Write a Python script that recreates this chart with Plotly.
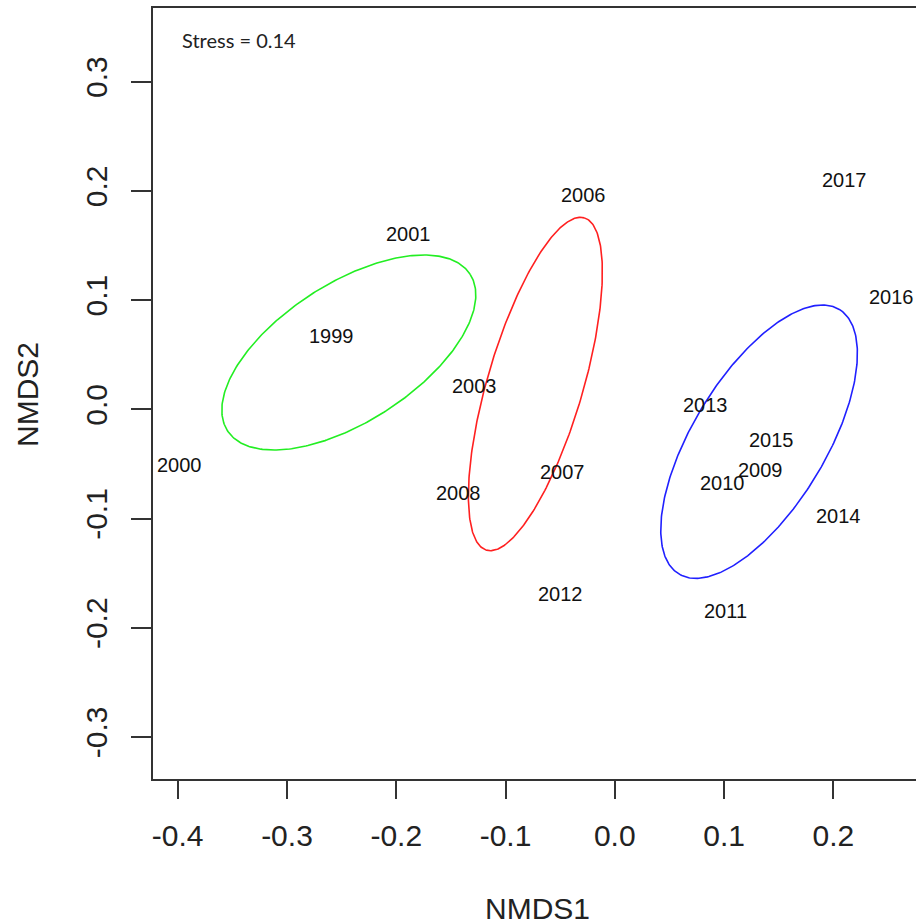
import numpy as np
import plotly.graph_objects as go

# ---- data ----
years = ["1999", "2000", "2001", "2003", "2006", "2007", "2008", "2009", "2010",
         "2011", "2012", "2013", "2014", "2015", "2016", "2017"]
nmds1 = [-0.2596, -0.3988, -0.189, -0.1288, -0.029, -0.0482, -0.1428, 0.1336, 0.0982,
         0.1010, -0.050, 0.0829, 0.2044, 0.1435, 0.2537, 0.2098]
nmds2 = [0.0671, -0.051, 0.1605, 0.0213, 0.196, -0.0574, -0.0765, -0.0556, -0.0678,
         -0.1847, -0.1691, 0.0039, -0.0977, -0.0281, 0.1028, 0.210]

# ellipses: centre, semi-axes, rotation (deg)
ell_names = ["group1", "group2", "group3"]
ell_cx = [-0.2434, -0.07266, 0.13206]
ell_cy = [0.0520, 0.02317, -0.02967]
ell_a = [0.13215, 0.15859, 0.14164]
ell_b = [0.0634, 0.04373, 0.06083]
ell_angle = [32.84, 73.62, 58.77]
ell_colors = ["#22ee22", "#ff2020", "#2020ff"]

x_ticks = [-0.4, -0.3, -0.2, -0.1, 0.0, 0.1, 0.2]
x_ticklabels = ["-0.4", "-0.3", "-0.2", "-0.1", "0.0", "0.1", "0.2"]
y_ticks = [-0.3, -0.2, -0.1, 0.0, 0.1, 0.2, 0.3]
y_ticklabels = ["-0.3", "-0.2", "-0.1", "0.0", "0.1", "0.2", "0.3"]

stress_text = "Stress = 0.14"

W, H = 916, 924
ML, MR, MT, MB = 153, 0, 8, 145

fig = go.Figure()

t = np.linspace(0, 2 * np.pi, 361)
for name, cx, cy, a, b, ang, col in zip(ell_names, ell_cx, ell_cy, ell_a, ell_b, ell_angle, ell_colors):
    th = np.deg2rad(ang)
    ex = cx + a * np.cos(th) * np.cos(t) - b * np.sin(th) * np.sin(t)
    ey = cy + a * np.sin(th) * np.cos(t) + b * np.cos(th) * np.sin(t)
    fig.add_trace(go.Scatter(x=ex, y=ey, mode="lines", name=name,
                             line=dict(color=col, width=1.6), hoverinfo="skip"))

label_font = dict(family="Liberation Sans, Arial", size=20, color="#111111")
year_annotations = [
    dict(x=xv, y=yv, xref="x", yref="y", text=lab, showarrow=False,
         xanchor="center", yanchor="middle", font=label_font)
    for xv, yv, lab in zip(nmds1, nmds2, years)
]

font_axis = dict(family="Liberation Sans, Arial", size=30, color="#222222")

fig.update_layout(
    width=W, height=H,
    margin=dict(l=ML, r=MR, t=MT, b=MB, pad=0),
    paper_bgcolor="white", plot_bgcolor="white",
    showlegend=False,
    xaxis=dict(range=[-0.4226, 0.27567], tickvals=x_ticks, ticktext=x_ticklabels,
               showgrid=False, zeroline=False, showline=True, mirror=True,
               linecolor="#333333", linewidth=2, ticks="outside", ticklen=18,
               tickwidth=2, tickcolor="#333333", tickfont=font_axis,
               ticklabelstandoff=11),
    yaxis=dict(range=[-0.33855, 0.36749], tickvals=y_ticks, ticktext=y_ticklabels,
               showgrid=False, zeroline=False, showline=True, mirror=False,
               linecolor="#333333", linewidth=2, ticks="outside", ticklen=20,
               tickwidth=2, tickcolor="#333333", tickfont=font_axis,
               tickangle=-90, ticklabelstandoff=12),
    annotations=year_annotations + [
        dict(text="NMDS1", xref="paper", yref="paper",
             x=(537 - ML) / (W - ML - MR), y=-(908 - (H - MB)) / (H - MT - MB),
             xanchor="center", yanchor="middle", showarrow=False, font=font_axis),
        dict(text="NMDS2", xref="paper", yref="paper",
             x=-(ML - 27) / (W - ML - MR), y=((H - MB) - 395) / (H - MT - MB),
             xanchor="center", yanchor="middle", textangle=-90, showarrow=False, font=font_axis),
        dict(text=stress_text, xref="paper", yref="paper",
             x=(180 - ML) / (W - ML - MR), y=((H - MB) - 40) / (H - MT - MB),
             xanchor="left", yanchor="middle", showarrow=False,
             font=dict(family="Lato, Open Sans", size=20, color="#222222")),
    ],
)

fig.write_html("out.html")
